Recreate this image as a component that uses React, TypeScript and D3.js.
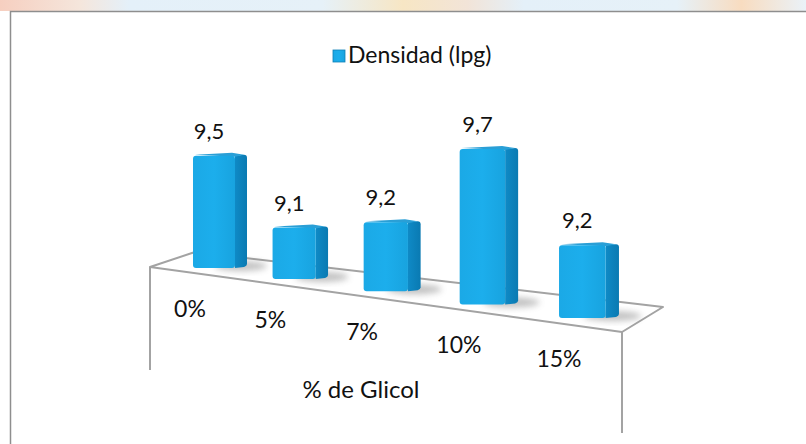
import React from 'react';
import * as d3 from 'd3';

const categories = ['0%', '5%', '7%', '10%', '15%'];
const densidad = [9.5, 9.1, 9.2, 9.7, 9.2];
const valueLabels = ['9,5', '9,1', '9,2', '9,7', '9,2'];
const seriesName = 'Densidad (lpg)';
const axisTitle = '% de Glicol';

const W = 806;
const H = 444;

// floor of the 3d plot (layout)
const floor = {
  frontLeft: [150, 267],
  frontRight: [622, 332],
  backRight: [663, 307],
  backLeft: [195, 252],
};

const App = () => {
  const idx = categories.map((_, i) => i);

  // perspective: bars get wider and spread out toward the right
  const x = d3.scalePow().exponent(1.1).domain([0, categories.length - 1]).range([220, 589]);
  const floorY = d3.scaleLinear().domain([220, 589]).range([268, 318]);
  const persp = d3.scaleLinear().domain([0, categories.length - 1]).range([1, 1.11]);
  const h = d3.scaleLinear().domain([8.78, 9.78]).range([0, 156]);

  const bars = idx.map((i) => {
    const s = persp(i);
    const cx = x(i);
    const bottom = floorY(cx);
    const height = h(densidad[i]) * s;
    const fw = 42 * s;
    const sd = 12 * s;
    const left = cx - 27 * s;
    return { i, s, cx, bottom, top: bottom - height, fw, sd, left };
  });

  const fontFam = 'Lato, "Open Sans", sans-serif';

  return (
    <div style={{ position: 'fixed', left: 0, top: 0 }}>
      <svg width={W} height={H} style={{ display: 'block', background: '#fff' }}>
        <defs>
          <linearGradient id="wm" x1="0" x2="1" y1="0" y2="0">
            <stop offset="0" stopColor="#f6cfc0" />
            <stop offset="0.1" stopColor="#f5e6dc" />
            <stop offset="0.16" stopColor="#e4f0f9" />
            <stop offset="0.4" stopColor="#e6f1f8" />
            <stop offset="0.5" stopColor="#f7e6c4" />
            <stop offset="0.58" stopColor="#f2e4d8" />
            <stop offset="0.65" stopColor="#e4f0f9" />
            <stop offset="0.84" stopColor="#e6f1f8" />
            <stop offset="0.92" stopColor="#f8dcc0" />
            <stop offset="1" stopColor="#eaf2f8" />
          </linearGradient>
          <linearGradient id="front" x1="0" x2="1" y1="0" y2="0">
            <stop offset="0" stopColor="#1ba9e6" />
            <stop offset="0.5" stopColor="#1caeec" />
            <stop offset="1" stopColor="#18a3df" />
          </linearGradient>
          <linearGradient id="side" x1="0" x2="1" y1="0" y2="0">
            <stop offset="0" stopColor="#0f8ac6" />
            <stop offset="1" stopColor="#0a7ab2" />
          </linearGradient>
          <filter id="blur" x="-50%" y="-50%" width="200%" height="200%">
            <feGaussianBlur stdDeviation="3" />
          </filter>
        </defs>

        <rect x={0} y={0} width={W} height={11} fill="url(#wm)" />
        <rect x={10.5} y={11.5} width={W + 10} height={H + 10} fill="#fff" stroke="#8e8e8e" strokeWidth={1.5} />

        {/* legend */}
        <g transform="translate(333,49)">
          <rect x={0} y={1} width={12} height={12} fill="url(#front)" stroke="#0d7fb6" strokeWidth={0.8} />
          <text x={15} y={14} fontFamily={fontFam} fontSize={23} fill="#111">{seriesName}</text>
        </g>

        {/* floor */}
        <polygon
          points={[floor.frontLeft, floor.frontRight, floor.backRight, floor.backLeft].map((p) => p.join(',')).join(' ')}
          fill="#fff"
          stroke="#a3a3a3"
          strokeWidth={2}
          strokeLinejoin="round"
        />
        <line x1={150} y1={267} x2={150} y2={370} stroke="#a3a3a3" strokeWidth={2} />
        <line x1={622} y1={332} x2={622} y2={433} stroke="#a3a3a3" strokeWidth={2} />

        {/* bars */}
        {bars.map((b) => (
          <g key={b.i}>
            <ellipse cx={b.left + b.fw + 6 * b.s} cy={b.bottom - 2} rx={26 * b.s} ry={5} fill="#777" opacity={0.45} filter="url(#blur)" />
            <path
              d={`M${b.left + b.fw},${b.top} L${b.left + b.fw + b.sd - 3},${b.top - 1} Q${b.left + b.fw + b.sd},${b.top - 1} ${b.left + b.fw + b.sd},${b.top + 2} L${b.left + b.fw + b.sd},${b.bottom - 4} Q${b.left + b.fw + b.sd},${b.bottom - 2} ${b.left + b.fw + b.sd - 3},${b.bottom - 1} L${b.left + b.fw},${b.bottom} Z`}
              fill="url(#side)"
            />
            <path
              d={`M${b.left + 2},${b.top - 1} L${b.left + b.fw},${b.top + 1} L${b.left + b.fw + b.sd - 3},${b.top - 1} L${b.left + b.fw - 3},${b.top - 3} Z`}
              fill="#2a9fd6"
            />
            <rect x={b.left} y={b.top} width={b.fw} height={b.bottom - b.top} rx={3} fill="url(#front)" />
            <text x={b.left + b.fw / 2 - 5} y={b.top - 17} textAnchor="middle" fontFamily={fontFam} fontSize={22} fill="#111">
              {valueLabels[b.i]}
            </text>
            <text x={b.cx - 30} y={b.bottom + 49} textAnchor="middle" fontFamily={fontFam} fontSize={23} fill="#111">
              {categories[b.i]}
            </text>
          </g>
        ))}

        <text x={361} y={398} textAnchor="middle" fontFamily={fontFam} fontSize={24} fill="#111">{axisTitle}</text>
      </svg>
    </div>
  );
};

export default App;
